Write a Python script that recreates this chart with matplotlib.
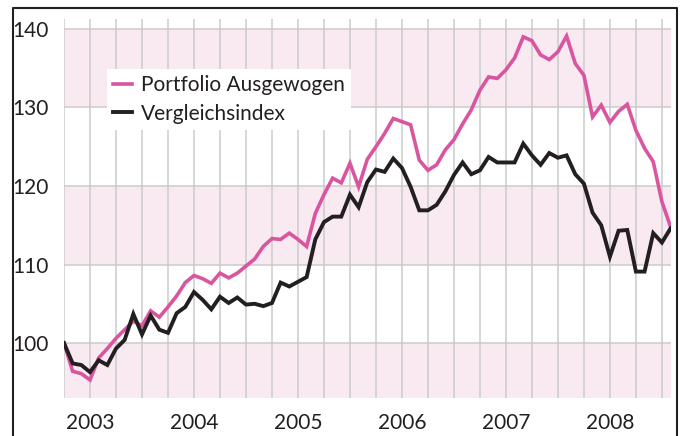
import matplotlib
matplotlib.use('Agg')
import matplotlib.pyplot as plt
from matplotlib.lines import Line2D

# monatliche Indexwerte, Start = 100
monate = list(range(71))
portfolio = [100.0, 96.4, 96.1, 95.3, 98.1, 99.3, 100.6, 101.7, 102.8, 102.2,
             104.1, 103.3, 104.6, 106.0, 107.7, 108.6, 108.2, 107.6, 108.9, 108.3,
             108.9, 109.8, 110.7, 112.3, 113.3, 113.2, 114.0, 113.2, 112.3, 116.5,
             118.9, 121.0, 120.4, 122.9, 119.9, 123.4, 125.0, 126.7, 128.6, 128.2,
             127.8, 123.3, 122.0, 122.7, 124.6, 125.9, 127.9, 129.7, 132.2, 133.9,
             133.7, 134.8, 136.3, 139.0, 138.5, 136.7, 136.1, 137.1, 139.1, 135.6,
             134.1, 128.8, 130.3, 128.1, 129.5, 130.4, 127.1, 124.8, 123.1, 118.0,
             114.8]
vergleich = [100.0, 97.4, 97.2, 96.3, 97.8, 97.2, 99.3, 100.4, 103.7, 101.1,
             103.5, 101.7, 101.3, 103.8, 104.6, 106.5, 105.5, 104.3, 105.9, 105.1,
             105.8, 104.9, 105.0, 104.7, 105.1, 107.7, 107.2, 107.8, 108.4, 113.2,
             115.4, 116.1, 116.1, 118.9, 117.3, 120.5, 122.1, 121.8, 123.5, 122.3,
             119.9, 116.9, 116.9, 117.6, 119.3, 121.4, 123.0, 121.5, 122.0, 123.7,
             123.0, 123.0, 123.0, 125.4, 123.9, 122.7, 124.2, 123.6, 123.9, 121.5,
             120.3, 116.6, 115.0, 111.0, 114.3, 114.4, 109.1, 109.1, 114.0, 112.8,
             114.6]
jahre = ['2003', '2004', '2005', '2006', '2007', '2008']
jahr_pos = [3, 15, 27, 39, 51, 63]
y_ticks = [100, 110, 120, 130, 140]

rosa = '#da559f'
schwarz = '#231f20'
band = '#f9eaf2'
gitter = '#cbcbcb'

plt.rcParams['font.family'] = ['Lato', 'DejaVu Sans']

fig = plt.figure(figsize=(6.84, 4.36), dpi=100)
ax = fig.add_axes([64 / 684, 1 - 398 / 436, 607 / 684, 379 / 436])

# rosa Bänder
for lo, hi in [(90, 100), (110, 120), (130, 140)]:
    ax.axhspan(lo, hi, color=band, lw=0, zorder=0)
for y in y_ticks:
    ax.axhline(y, color=gitter, lw=1.1, zorder=1)
for m in range(0, 70, 3):
    ax.axvline(m, color=gitter, lw=1.1, zorder=1)

ax.plot(monate, portfolio, color=rosa, lw=2.6, label='Portfolio Ausgewogen', zorder=3,
        solid_joinstyle='miter')
ax.plot(monate, vergleich, color=schwarz, lw=2.8, label='Vergleichsindex', zorder=3,
        solid_joinstyle='miter')

ax.set_xlim(0, 70.05)
ax.set_ylim(93.0, 141.27)
ax.set_yticks(y_ticks)
ax.set_xticks(jahr_pos)
ax.set_xticklabels(jahre)
ax.tick_params(length=0, labelsize=15, colors=schwarz)
ax.tick_params(axis='y', pad=11)
ax.tick_params(axis='x', pad=11)
for s in ax.spines.values():
    s.set_visible(False)

leg = ax.legend(loc='upper left', bbox_to_anchor=(0.0708, 0.868), fontsize=15,
                frameon=True, fancybox=False, framealpha=1, edgecolor='none',
                handlelength=0.9, handletextpad=0.45, labelspacing=0.4,
                borderpad=0.3, borderaxespad=0)
leg.get_frame().set_linewidth(0)
for t in leg.get_texts():
    t.set_color(schwarz)

# äußerer Rahmen (unten offen)
rahmen = Line2D([12.5 / 684, 12.5 / 684, 677 / 684, 677 / 684],
                [0, 1 - 8.5 / 436, 1 - 8.5 / 436, 0],
                transform=fig.transFigure, color=schwarz, lw=1.5)
fig.add_artist(rahmen)

fig.savefig('out.png', dpi=100)
